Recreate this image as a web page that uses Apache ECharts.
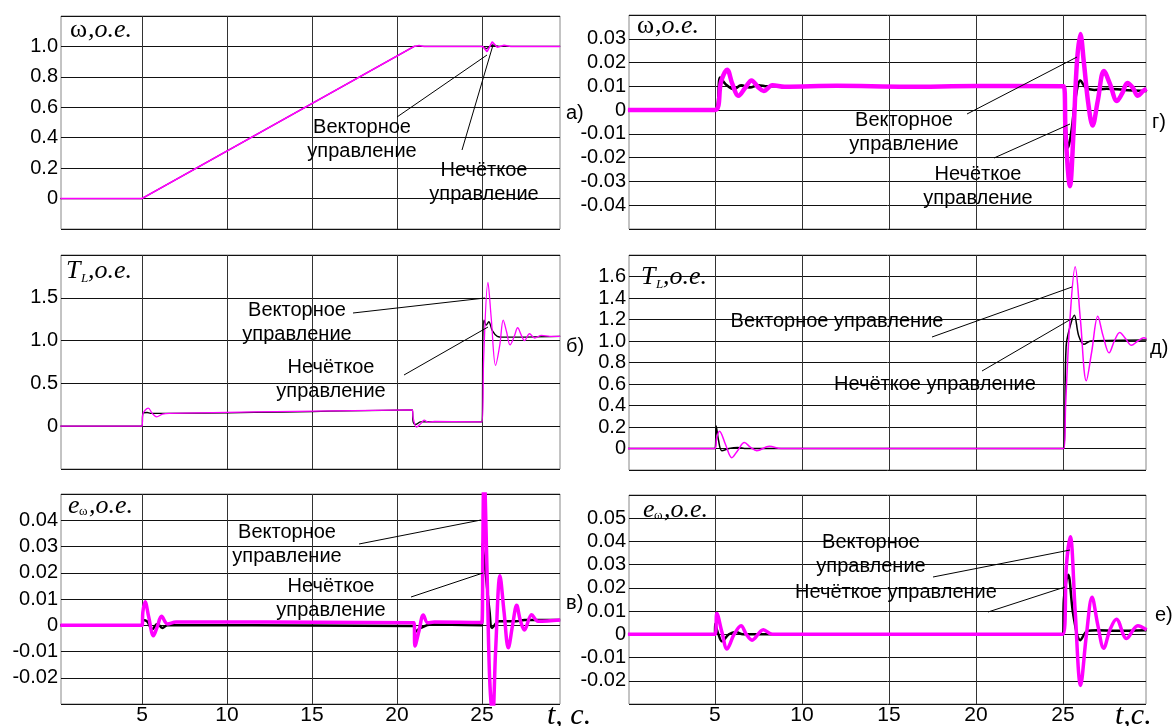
<!DOCTYPE html>
<html><head><meta charset="utf-8">
<script src="https://cdn.jsdelivr.net/npm/echarts@6/dist/echarts.min.js"></script>
<style>html,body{margin:0;padding:0;background:#fff}#c{width:1176px;height:726px}</style>
</head><body><div id="c"></div><script>
// ---------- data ----------
const timeTicks = [5, 10, 15, 20, 25];

// а) omega, full scale
const omegaFullVector = [[0.2,0],[5,0],[21,1.0],[21.3,1.006],[21.6,1.0],[25.05,1.0],[25.3,0.965],[25.6,1.03],[25.9,0.995],[26.3,1.008],[26.7,1.0],[29.6,1.0]];
const omegaFullFuzzy  = [[0.2,0],[5,0],[21,1.0],[25.05,1.0],[25.25,0.985],[25.6,1.01],[26,1.0],[29.6,1.0]];

// г) omega, zoomed
const omegaZoomVector = [[0,0],[5,0],[5.35,0.012],[5.7,0.017],[6.0,0.011],[6.35,0.006],[6.75,0.0095],[7.1,0.0125],[7.5,0.0095],[7.8,0.008],[8.3,0.0105],[9,0.0098],[12,0.0102],[16,0.0098],[20,0.0101],[25.05,0.01],[25.15,-0.01],[25.4,-0.032],[25.6,-0.01],[25.8,0.02],[26.0,0.032],[26.2,0.02],[26.45,0.003],[26.7,-0.0065],[27.0,0.004],[27.35,0.0165],[27.7,0.011],[28.1,0.0038],[28.4,0.007],[28.7,0.0114],[29.0,0.0095],[29.3,0.006],[29.6,0.008],[29.8,0.009]];
const omegaZoomFuzzy  = [[0,0],[5,0],[5.3,0.0137],[5.6,0.011],[6.1,0.0088],[6.5,0.0105],[7,0.0095],[7.5,0.0105],[8,0.01],[25.05,0.01],[25.15,-0.005],[25.3,-0.0157],[25.5,-0.008],[25.7,0.004],[26.0,0.0125],[26.3,0.0095],[26.8,0.0085],[27.5,0.009],[28.5,0.0085],[29.8,0.008]];

// б) load torque, full scale
const torqueFullVector = [[0.2,0],[5,0],[5.05,0.14],[5.37,0.21],[5.6,0.15],[5.86,0.11],[6.2,0.14],[6.6,0.15],[20.9,0.19],[20.95,0.1],[21.15,-0.01],[21.4,0.03],[21.6,0.07],[21.85,0.045],[22.2,0.055],[25,0.05],[25.1,0.8],[25.35,1.68],[25.55,1.25],[25.8,0.71],[26.05,0.95],[26.25,1.24],[26.45,1.1],[26.65,0.95],[26.9,1.05],[27.1,1.15],[27.3,1.07],[27.5,1.0],[27.8,1.08],[28.1,1.03],[28.5,1.06],[29,1.05],[29.6,1.05]];
const torqueFullFuzzy  = [[0.2,0],[5,0],[5.05,0.15],[5.3,0.16],[5.5,0.15],[6,0.15],[20.9,0.19],[20.95,0.05],[21.1,0.02],[21.4,0.05],[22,0.05],[25,0.05],[25.05,1.0],[25.12,1.24],[25.25,1.18],[25.4,1.22],[25.6,1.12],[25.9,1.05],[26.2,1.04],[29.6,1.05]];

// д) load torque, zoomed transient
const torqueZoomVector = [[0,0],[5,0],[5.1,0.1],[5.26,0.16],[5.6,0.04],[5.97,-0.085],[6.3,-0.02],[6.69,0.055],[7.05,0.01],[7.4,-0.02],[8.13,0.02],[8.8,0.0],[25.05,0],[25.15,0.4],[25.4,1.2],[25.7,1.69],[26.0,1.2],[26.34,0.63],[26.65,0.9],[27.0,1.23],[27.3,1.05],[27.65,0.89],[27.95,1.0],[28.26,1.08],[28.6,1.02],[28.93,0.96],[29.3,1.0],[29.65,1.03],[29.8,1.02]];
const torqueZoomFuzzy  = [[0,0],[5,0],[5.07,0.21],[5.2,0.08],[5.4,-0.02],[5.8,0.0],[6.3,0.01],[6.8,0],[25.05,0],[25.1,0.3],[25.18,0.95],[25.35,1.1],[25.65,1.24],[25.9,1.05],[26.2,0.97],[26.6,1.0],[29.8,1.01]];

// в) speed error, left
const errorLeftVector = [[0.2,0],[5,0],[5.05,0.005],[5.18,0.009],[5.4,0.003],[5.67,-0.004],[5.9,-0.0005],[6.15,0.0034],[6.5,0.0005],[7,0.0012],[21,0.001],[21.06,-0.0079],[21.3,-0.002],[21.55,0.0039],[21.8,0.001],[22.2,0.0012],[25,0.001],[25.05,0.03],[25.12,0.06],[25.3,0.02],[25.45,-0.02],[25.63,-0.035],[25.8,-0.01],[26.06,0.0189],[26.3,0.005],[26.55,-0.0086],[26.8,0.0],[27.04,0.0076],[27.25,0.002],[27.5,-0.0018],[27.92,0.004],[28.3,0.0015],[29.6,0.002]];
const errorLeftFuzzy  = [[0.2,0],[5,0],[5.05,0.002],[5.3,0.0015],[5.6,-0.0015],[5.9,0.0005],[6.2,-0.001],[6.5,0],[21,-0.0003],[21.05,-0.0025],[21.4,-0.001],[22,0.0003],[25,0],[25.03,0.031],[25.2,0.021],[25.45,0.005],[25.6,-0.001],[26,0.0015],[27,0.0015],[27.5,0.002],[29.6,0.002]];

// е) speed error, right
const errorRightVector = [[0,0],[5,0],[5.11,0.009],[5.4,0.001],[5.69,-0.0063],[6.1,0.0],[6.5,0.0037],[6.8,0.0],[7.13,-0.0025],[7.78,0.002],[8.3,0.0],[25,0],[25.2,0.03],[25.42,0.042],[25.7,0.01],[26.01,-0.022],[26.35,0.0],[26.67,0.016],[27.0,0.004],[27.34,-0.006],[27.7,0.002],[28.07,0.0065],[28.65,-0.0018],[29.3,0.0037],[29.8,0.002]];
const errorRightFuzzy  = [[0,0],[5,0],[5.01,0.0046],[5.2,0.0],[5.4,-0.003],[5.8,0.0],[6.2,0.001],[6.6,0.0],[25,0],[25.05,0.015],[25.3,0.0257],[25.6,0.008],[26.0,-0.0025],[26.4,0.0015],[27,0.0018],[28,0.0015],[29.8,0.0018]];

// ---------- layout ----------
const VEC = '#ff00ff', FUZ = '#000000';
const panels = [
  {grid:{left:61, top:16, width:499, height:213}, x:[0.235,29.59], y:[-0.2,1.2,0.2], dec:1, showX:false, vec:omegaFullVector, fuz:omegaFullFuzzy, wv:1.6, wf:1.2, smooth:false},
  {grid:{left:61, top:255, width:499, height:214}, x:[0.235,29.59], y:[-0.5,2.0,0.5], dec:1, showX:false, vec:torqueFullVector, fuz:torqueFullFuzzy, wv:1.3, wf:1.3, smooth:0.35},
  {grid:{left:61, top:494, width:499, height:214}, x:[0.235,29.59], y:[-0.03,0.05,0.01], dec:2, showX:true, vec:errorLeftVector, fuz:errorLeftFuzzy, wv:3.5, wf:2.5, smooth:0.35},
  {grid:{left:629, top:15, width:517, height:214}, x:[0.06,29.77], y:[-0.05,0.04,0.01], dec:2, showX:false, vec:omegaZoomVector, fuz:omegaZoomFuzzy, wv:4.5, wf:2.5, smooth:0.35},
  {grid:{left:629, top:255, width:517, height:215}, x:[0.06,29.77], y:[-0.2,1.8,0.2], dec:1, showX:false, vec:torqueZoomVector, fuz:torqueZoomFuzzy, wv:1.5, wf:1.5, smooth:0.35},
  {grid:{left:629, top:495, width:517, height:216}, x:[0.06,29.77], y:[-0.03,0.06,0.01], dec:2, showX:true, vec:errorRightVector, fuz:errorRightFuzzy, wv:3.5, wf:2.5, smooth:0.35}
];

const grids = [], xAxes = [], yAxes = [], series = [];
panels.forEach((p, i) => {
  grids.push(Object.assign({show:true, borderColor:'#888', borderWidth:1, backgroundColor:'#fff'}, p.grid));
  xAxes.push({gridIndex:i, type:'value', min:p.x[0], max:p.x[1],
    axisLine:{show:false}, axisTick:{show:false, customValues:timeTicks},
    axisLabel:{show:p.showX, customValues:timeTicks, fontSize:21, color:'#000', margin:1, fontFamily:'Liberation Sans, Arial'},
    splitLine:{show:true, lineStyle:{color:'#333', width:1}}});
  yAxes.push({gridIndex:i, type:'value', min:p.y[0], max:p.y[1], interval:p.y[2],
    axisLine:{show:false}, axisTick:{show:false},
    axisLabel:{fontSize:20, color:'#000', margin:3, fontFamily:'Liberation Sans, Arial', showMinLabel:false, showMaxLabel:false,
      formatter: v => Math.abs(v) < 1e-9 ? '0' : v.toFixed(p.dec)},
    splitLine:{show:true, lineStyle:{color:'#111', width:1}}});
  series.push({type:'line', xAxisIndex:i, yAxisIndex:i, data:p.fuz, symbol:'none', smooth:p.smooth,
    lineStyle:{color:FUZ, width:p.wf}, z:2});
  series.push({type:'line', xAxisIndex:i, yAxisIndex:i, data:p.vec, symbol:'none', smooth:p.smooth,
    lineStyle:{color:VEC, width:p.wv}, z:3});
});

// ---------- annotations ----------
const SANS = '"Liberation Sans", Arial, sans-serif';
const SERIF = '"Liberation Serif", "Times New Roman", serif';
const g = [];
function txt(x, y, text, font, align, lh) {
  g.push({type:'text', z:100, style:{x:x, y:y, text:text, font:font, fill:'#000', align:align||'center', verticalAlign:'middle', lineHeight:lh||24}});
}
function ln(x1, y1, x2, y2) {
  g.push({type:'line', z:100, shape:{x1:x1, y1:y1, x2:x2, y2:y2}, style:{stroke:'#000', lineWidth:1}});
}
const F = '20px ' + SANS;
const VT = 'Векторное\nуправление', NT = 'Нечёткое\nуправление';
// а
txt(362, 139, VT, F); txt(484, 182, NT, F);
ln(397, 117, 487, 55); ln(462, 150, 493, 45);
// г
txt(904, 132, VT, F); txt(978, 186, NT, F);
ln(967, 114, 1077, 57); ln(994, 158, 1070, 124);
// б
txt(297, 322, VT, F); txt(331, 379, NT, F);
ln(353, 313, 485, 298); ln(404, 375, 488, 327);
// д
txt(837, 321, 'Векторное управление', F); txt(935, 384, 'Нечёткое управление', F);
ln(932, 337, 1072, 287); ln(982, 371, 1073, 318);
// в
txt(287, 544, VT, F); txt(331, 598, NT, F);
ln(359, 544, 481, 520); ln(411, 597, 483, 573);
// е
txt(871, 554, VT, F); txt(896, 592, 'Нечёткое управление', F);
ln(933, 577, 1070, 550); ln(988, 612, 1065, 587);

// panel letters
txt(566, 113, 'а)', F, 'left'); txt(566, 346, 'б)', F, 'left'); txt(566, 603, 'в)', F, 'left');
txt(1152, 122, 'г)', F, 'left'); txt(1150, 348, 'д)', F, 'left'); txt(1155, 615, 'е)', F, 'left');

// panel titles
const TI = 'italic 26px ' + SERIF, TU = '26px ' + SERIF, SUB = 'italic 13px ' + SERIF;
txt(70, 30, 'ω', TU, 'left'); txt(88, 30, ',о.е.', TI, 'left');
txt(637, 26, 'ω', TU, 'left'); txt(655, 26, ',о.е.', TI, 'left');
txt(66, 271, 'T', TI, 'left'); txt(81, 279, 'L', SUB, 'left'); txt(88, 271, ',о.е.', TI, 'left');
txt(641, 277, 'T', TI, 'left'); txt(656, 285, 'L', SUB, 'left'); txt(663, 277, ',о.е.', TI, 'left');
txt(68, 506, 'e', TI, 'left'); txt(79, 512, 'ω', '13px ' + SERIF, 'left'); txt(89, 506, ',о.е.', TI, 'left');
txt(643, 510, 'e', TI, 'left'); txt(654, 516, 'ω', '13px ' + SERIF, 'left'); txt(664, 510, ',о.е.', TI, 'left');

// time axis names
txt(547, 716, 't, с.', 'italic 30px ' + SERIF, 'left');
txt(1115, 716, 't,с.', 'italic 30px ' + SERIF, 'left');

const chart = echarts.init(document.getElementById('c'), null, {renderer:'canvas'});
chart.setOption({
  animation:false,
  backgroundColor:'#fff',
  grid:grids, xAxis:xAxes, yAxis:yAxes, series:series, graphic:g
});
</script></body></html>
